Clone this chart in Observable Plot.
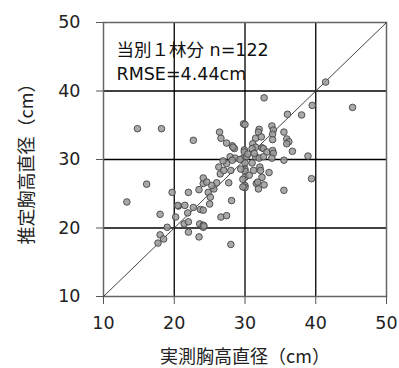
<!DOCTYPE html>
<html>
<head>
<meta charset="utf-8">
<script src="https://cdn.jsdelivr.net/npm/d3@7"></script>
<script src="https://cdn.jsdelivr.net/npm/@observablehq/plot@0.6"></script>
<style>
  html, body { margin: 0; padding: 0; background: #fff; }
</style>
</head>
<body>
<div id="chart"></div>
<script>
// Measured DBH (x, cm)
const measured = [
  14.8, 18.2, 22.7, 26.4, 26.6, 27.4, 28.2, 28.5, 28.3, 27.9,
  28.6, 29.8, 41.4, 32.7, 39.5, 45.2, 36.0, 38.0, 30.0, 32.0,
  31.9, 33.8, 34.0, 33.9, 35.5, 31.5, 31.1, 32.3, 33.9, 35.9,
  36.2, 35.9, 36.7, 38.9, 29.9, 29.9, 31.5, 32.4, 32.6, 33.1,
  33.9, 34.0, 31.5, 32.0, 32.6, 33.8, 35.5, 29.6, 30.2, 30.0,
  31.0, 32.1, 30.0, 31.2, 32.2, 30.0, 32.4, 30.0, 29.7, 30.0,
  30.0, 31.6, 31.8, 32.7, 31.9, 35.5, 39.4, 16.1, 13.3, 19.7,
  18.0, 22.0, 20.6, 20.5, 22.7, 20.2, 21.9, 21.4, 22.0, 19.0,
  18.0, 18.5, 17.7, 22.0, 23.5, 28.0, 23.6, 24.1, 24.1, 23.7,
  24.1, 25.0, 26.6, 27.4, 28.1, 23.5, 24.1, 24.1, 24.6, 24.8,
  25.1, 25.6, 26.0, 25.3, 26.3, 26.5, 27.4, 27.0, 28.0, 27.7,
  28.2, 29.3, 29.7, 21.5, 24.2, 30.4, 31.0, 29.4, 26.9, 30.6,
  33.4, 31.3
];
// Estimated DBH (y, cm)
const estimated = [
  34.5, 34.5, 32.8, 34.0, 33.1, 32.4, 32.0, 31.6, 31.8, 30.4,
  30.2, 35.2, 41.3, 39.0, 37.9, 37.6, 36.6, 36.5, 35.1, 34.4,
  34.0, 34.9, 34.3, 33.7, 34.0, 33.1, 32.3, 33.3, 32.9, 33.0,
  32.6, 32.3, 31.2, 30.5, 31.4, 31.1, 31.8, 31.7, 31.6, 31.1,
  31.3, 30.9, 30.4, 30.2, 30.4, 30.2, 29.9, 30.1, 30.4, 29.5,
  29.5, 28.9, 28.6, 28.4, 28.4, 28.3, 27.4, 27.4, 27.1, 26.2,
  25.9, 26.5, 26.7, 26.3, 25.7, 25.5, 27.2, 26.4, 23.8, 25.2,
  22.0, 25.2, 23.2, 23.3, 23.0, 21.6, 22.2, 20.6, 20.9, 20.1,
  19.0, 18.4, 17.8, 19.4, 18.7, 17.6, 20.6, 20.4, 20.1, 22.7,
  22.6, 23.5, 21.6, 21.8, 24.0, 25.6, 26.5, 27.3, 26.7, 25.2,
  24.5, 25.7, 26.6, 26.2, 28.9, 27.9, 29.4, 28.4, 28.4, 26.6,
  29.9, 30.0, 26.0, 23.3, 20.3, 30.8, 31.6, 28.6, 29.8, 27.7,
  28.1, 30.9
];
const ticks = [10, 20, 30, 40, 50];
const gridTicks = [20, 30, 40];
const oneToOne = [10, 50];
const annotation = ["当別１林分 n=122", "RMSE=4.44cm"];
const xLabel = "実測胸高直径（cm）";
const yLabel = "推定胸高直径（cm）";

const points = measured.map((x, i) => ({x, y: estimated[i]}));
const diag = oneToOne.map(v => ({x: v, y: v}));

const chart = Plot.plot({
  width: 399,
  height: 368,
  marginLeft: 103,
  marginRight: 13,
  marginTop: 22,
  marginBottom: 72,
  style: {fontFamily: "'DejaVu Sans', 'Noto Sans CJK JP', sans-serif", fontSize: "17px", color: "#222", background: "#fff"},
  x: {domain: [10, 50]},
  y: {domain: [10, 50]},
  marks: [
    Plot.gridX(gridTicks, {stroke: "#000", strokeOpacity: 1, strokeWidth: 1.3}),
    Plot.gridY(gridTicks, {stroke: "#000", strokeOpacity: 1, strokeWidth: 1.3}),
    Plot.frame({stroke: "#666", strokeWidth: 1.5}),
    Plot.axisX(ticks, {tickSize: 8, tickPadding: 12, stroke: "#555", label: null, fontSize: 17.5}),
    Plot.axisY(ticks, {tickSize: 7, tickPadding: 16, stroke: "#555", label: null, fontSize: 17.5}),
    Plot.line(diag, {x: "x", y: "y", stroke: "#444", strokeWidth: 1}),
    Plot.dot(points, {x: "x", y: "y", r: 3.3, fill: "#9a9a9a", fillOpacity: 0.85, stroke: "#444", strokeWidth: 0.9}),
    Plot.text([annotation.join("\n")], {frameAnchor: "top-left", dx: 13, dy: 16, lineHeight: 1.38, textAnchor: "start", lineAnchor: "top", fontSize: 17.5, fill: "#111"}),
    Plot.text([xLabel], {frameAnchor: "bottom", dy: 61, textAnchor: "middle", lineAnchor: "middle", fontSize: 18, fill: "#222", fontFamily: "'Noto Sans CJK JP', sans-serif"}),
    Plot.text([yLabel], {frameAnchor: "left", dx: -76, rotate: -90, textAnchor: "middle", lineAnchor: "middle", fontSize: 18, fill: "#222", fontFamily: "'Noto Sans CJK JP', sans-serif"})
  ]
});
document.getElementById("chart").appendChild(chart);
</script>
</body>
</html>
